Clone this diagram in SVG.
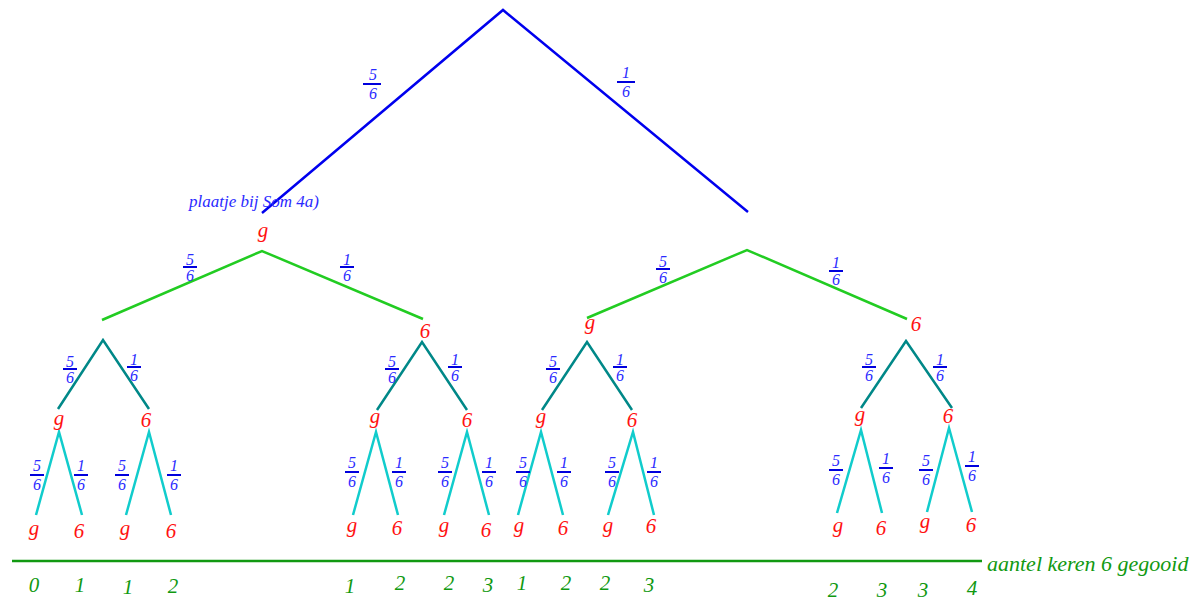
<svg xmlns="http://www.w3.org/2000/svg" width="1196" height="600" viewBox="0 0 1196 600">
<style>
text{font-family:"Liberation Serif","Times New Roman",serif;font-style:italic}
.fr{font-size:16px;fill:#2a2aff;text-anchor:middle}
.bar{stroke:#0000dd;stroke-width:2}
.nd{font-size:21px;fill:#ff1111;text-anchor:middle}
.cnt{font-size:21px;fill:#119911;text-anchor:middle}
.l1{stroke:#0000ee;stroke-width:2.5;fill:none}
.l2{stroke:#22cc22;stroke-width:2.5;fill:none}
.l3{stroke:#008888;stroke-width:2.5;fill:none}
.l4{stroke:#11cccc;stroke-width:2.5;fill:none}
.axis{stroke:#119911;stroke-width:2.5}
</style>
<rect width="1196" height="600" fill="#ffffff"/>
<g id="connectors">
<path class="l1" d="M262,213 L503,10 L748,212"/>
<path class="l2" d="M102,320 L262,251 L423,319"/>
<path class="l2" d="M587,318 L747,250 L907,319"/>
<path class="l3" d="M58,409 L103,340 L149,409"/>
<path class="l3" d="M377,410 L422,342 L467,410"/>
<path class="l3" d="M542,410 L587,342 L632,410"/>
<path class="l3" d="M861,408 L906,341 L952,408"/>
<path class="l4" d="M36,515 L59,432 L82,515"/>
<path class="l4" d="M126,515 L149,432 L171,515"/>
<path class="l4" d="M353,515 L376,432 L398,515"/>
<path class="l4" d="M444,515 L467,432 L489,515"/>
<path class="l4" d="M518,515 L541,432 L563,515"/>
<path class="l4" d="M608,515 L633,432 L654,515"/>
<path class="l4" d="M837,513 L861,430 L882,513"/>
<path class="l4" d="M927,512 L949,428 L972,512"/>
<line class="axis" x1="12" y1="561" x2="982" y2="561"/>
</g>
<g id="fractions">
<g><text class="fr" x="373" y="80">5</text><line class="bar" x1="363" y1="84" x2="381" y2="84"/><text class="fr" x="373" y="99">6</text></g>
<g><text class="fr" x="626" y="78">1</text><line class="bar" x1="617" y1="82" x2="635" y2="82"/><text class="fr" x="626" y="97">6</text></g>
<g><text class="fr" x="190" y="265">5</text><line class="bar" x1="183" y1="267" x2="197" y2="267"/><text class="fr" x="190" y="281">6</text></g>
<g><text class="fr" x="347" y="265">1</text><line class="bar" x1="340" y1="267" x2="354" y2="267"/><text class="fr" x="347" y="281">6</text></g>
<g><text class="fr" x="663" y="267">5</text><line class="bar" x1="656" y1="269" x2="670" y2="269"/><text class="fr" x="663" y="283">6</text></g>
<g><text class="fr" x="836" y="268">1</text><line class="bar" x1="829" y1="271" x2="843" y2="271"/><text class="fr" x="836" y="285">6</text></g>
<g><text class="fr" x="70" y="367">5</text><line class="bar" x1="63" y1="369" x2="77" y2="369"/><text class="fr" x="70" y="383">6</text></g>
<g><text class="fr" x="134" y="365">1</text><line class="bar" x1="127" y1="367" x2="141" y2="367"/><text class="fr" x="134" y="381">6</text></g>
<g><text class="fr" x="392" y="367">5</text><line class="bar" x1="385" y1="369" x2="399" y2="369"/><text class="fr" x="392" y="383">6</text></g>
<g><text class="fr" x="455" y="365">1</text><line class="bar" x1="448" y1="367" x2="462" y2="367"/><text class="fr" x="455" y="381">6</text></g>
<g><text class="fr" x="553" y="367">5</text><line class="bar" x1="546" y1="369" x2="560" y2="369"/><text class="fr" x="553" y="383">6</text></g>
<g><text class="fr" x="620" y="365">1</text><line class="bar" x1="613" y1="367" x2="627" y2="367"/><text class="fr" x="620" y="381">6</text></g>
<g><text class="fr" x="869" y="365">5</text><line class="bar" x1="862" y1="367" x2="876" y2="367"/><text class="fr" x="869" y="381">6</text></g>
<g><text class="fr" x="940" y="365">1</text><line class="bar" x1="933" y1="367" x2="947" y2="367"/><text class="fr" x="940" y="381">6</text></g>
<g><text class="fr" x="37" y="471">5</text><line class="bar" x1="30" y1="475" x2="44" y2="475"/><text class="fr" x="37" y="490">6</text></g>
<g><text class="fr" x="81" y="471">1</text><line class="bar" x1="74" y1="475" x2="88" y2="475"/><text class="fr" x="81" y="490">6</text></g>
<g><text class="fr" x="122" y="471">5</text><line class="bar" x1="115" y1="475" x2="129" y2="475"/><text class="fr" x="122" y="490">6</text></g>
<g><text class="fr" x="174" y="471">1</text><line class="bar" x1="167" y1="475" x2="181" y2="475"/><text class="fr" x="174" y="490">6</text></g>
<g><text class="fr" x="352" y="468">5</text><line class="bar" x1="345" y1="472" x2="359" y2="472"/><text class="fr" x="352" y="487">6</text></g>
<g><text class="fr" x="399" y="468">1</text><line class="bar" x1="392" y1="472" x2="406" y2="472"/><text class="fr" x="399" y="487">6</text></g>
<g><text class="fr" x="445" y="468">5</text><line class="bar" x1="438" y1="472" x2="452" y2="472"/><text class="fr" x="445" y="487">6</text></g>
<g><text class="fr" x="489" y="468">1</text><line class="bar" x1="482" y1="472" x2="496" y2="472"/><text class="fr" x="489" y="487">6</text></g>
<g><text class="fr" x="523" y="468">5</text><line class="bar" x1="516" y1="472" x2="530" y2="472"/><text class="fr" x="523" y="487">6</text></g>
<g><text class="fr" x="564" y="468">1</text><line class="bar" x1="557" y1="472" x2="571" y2="472"/><text class="fr" x="564" y="487">6</text></g>
<g><text class="fr" x="612" y="468">5</text><line class="bar" x1="605" y1="472" x2="619" y2="472"/><text class="fr" x="612" y="487">6</text></g>
<g><text class="fr" x="654" y="468">1</text><line class="bar" x1="647" y1="472" x2="661" y2="472"/><text class="fr" x="654" y="487">6</text></g>
<g><text class="fr" x="836" y="466">5</text><line class="bar" x1="829" y1="470" x2="843" y2="470"/><text class="fr" x="836" y="485">6</text></g>
<g><text class="fr" x="886" y="464">1</text><line class="bar" x1="879" y1="468" x2="893" y2="468"/><text class="fr" x="886" y="483">6</text></g>
<g><text class="fr" x="926" y="466">5</text><line class="bar" x1="919" y1="470" x2="933" y2="470"/><text class="fr" x="926" y="485">6</text></g>
<g><text class="fr" x="972" y="462">1</text><line class="bar" x1="965" y1="466" x2="979" y2="466"/><text class="fr" x="972" y="481">6</text></g>
</g>
<g id="caption"><text x="189" y="207" font-size="17" fill="#2a2aff">plaatje bij Som 4a)</text></g>
<g id="n1"><text class="nd" x="263" y="237">g</text></g>
<g id="n2"><text class="nd" x="425" y="338" font-size="23">6</text></g>
<g id="n3"><text class="nd" x="590" y="329">g</text></g>
<g id="n4"><text class="nd" x="916" y="331">6</text></g>
<g id="n11"><text class="nd" x="59" y="425">g</text></g>
<g id="n12"><text class="nd" x="146" y="427">6</text></g>
<g id="n21"><text class="nd" x="375" y="423">g</text></g>
<g id="n22"><text class="nd" x="467" y="427">6</text></g>
<g id="n31"><text class="nd" x="541" y="423">g</text></g>
<g id="n32"><text class="nd" x="632" y="427">6</text></g>
<g id="n41"><text class="nd" x="860" y="421">g</text></g>
<g id="n42"><text class="nd" x="948" y="423">6</text></g>
<g id="leaves">
<g id="lf1"><text class="nd" x="34" y="535">g</text></g>
<g id="lf2"><text class="nd" x="79" y="538">6</text></g>
<g id="lf3"><text class="nd" x="125" y="535">g</text></g>
<g id="lf4"><text class="nd" x="171" y="538">6</text></g>
<g id="lf5"><text class="nd" x="352" y="532">g</text></g>
<g id="lf6"><text class="nd" x="397" y="535">6</text></g>
<g id="lf7"><text class="nd" x="444" y="532">g</text></g>
<g id="lf8"><text class="nd" x="486" y="537">6</text></g>
<g id="lf9"><text class="nd" x="519" y="532">g</text></g>
<g id="lf10"><text class="nd" x="563" y="535">6</text></g>
<g id="lf11"><text class="nd" x="608" y="532">g</text></g>
<g id="lf12"><text class="nd" x="651" y="533">6</text></g>
<g id="lf13"><text class="nd" x="838" y="532">g</text></g>
<g id="lf14"><text class="nd" x="881" y="535">6</text></g>
<g id="lf15"><text class="nd" x="925" y="528">g</text></g>
<g id="lf16"><text class="nd" x="971" y="532">6</text></g>
</g>
<g id="counts">
<text class="cnt" x="34" y="592">0</text>
<text class="cnt" x="80" y="592">1</text>
<text class="cnt" x="128" y="594">1</text>
<text class="cnt" x="173" y="593">2</text>
<text class="cnt" x="350" y="593">1</text>
<text class="cnt" x="400" y="590">2</text>
<text class="cnt" x="449" y="590">2</text>
<text class="cnt" x="488" y="592">3</text>
<text class="cnt" x="522" y="590">1</text>
<text class="cnt" x="566" y="590">2</text>
<text class="cnt" x="605" y="590">2</text>
<text class="cnt" x="649" y="592">3</text>
<text class="cnt" x="833" y="597">2</text>
<text class="cnt" x="882" y="597">3</text>
<text class="cnt" x="923" y="597">3</text>
<text class="cnt" x="972" y="595">4</text>
</g>
<g id="axis-label"><text x="987" y="571" font-size="22" fill="#119911">aantel keren 6 gegooid</text></g>
</svg>
